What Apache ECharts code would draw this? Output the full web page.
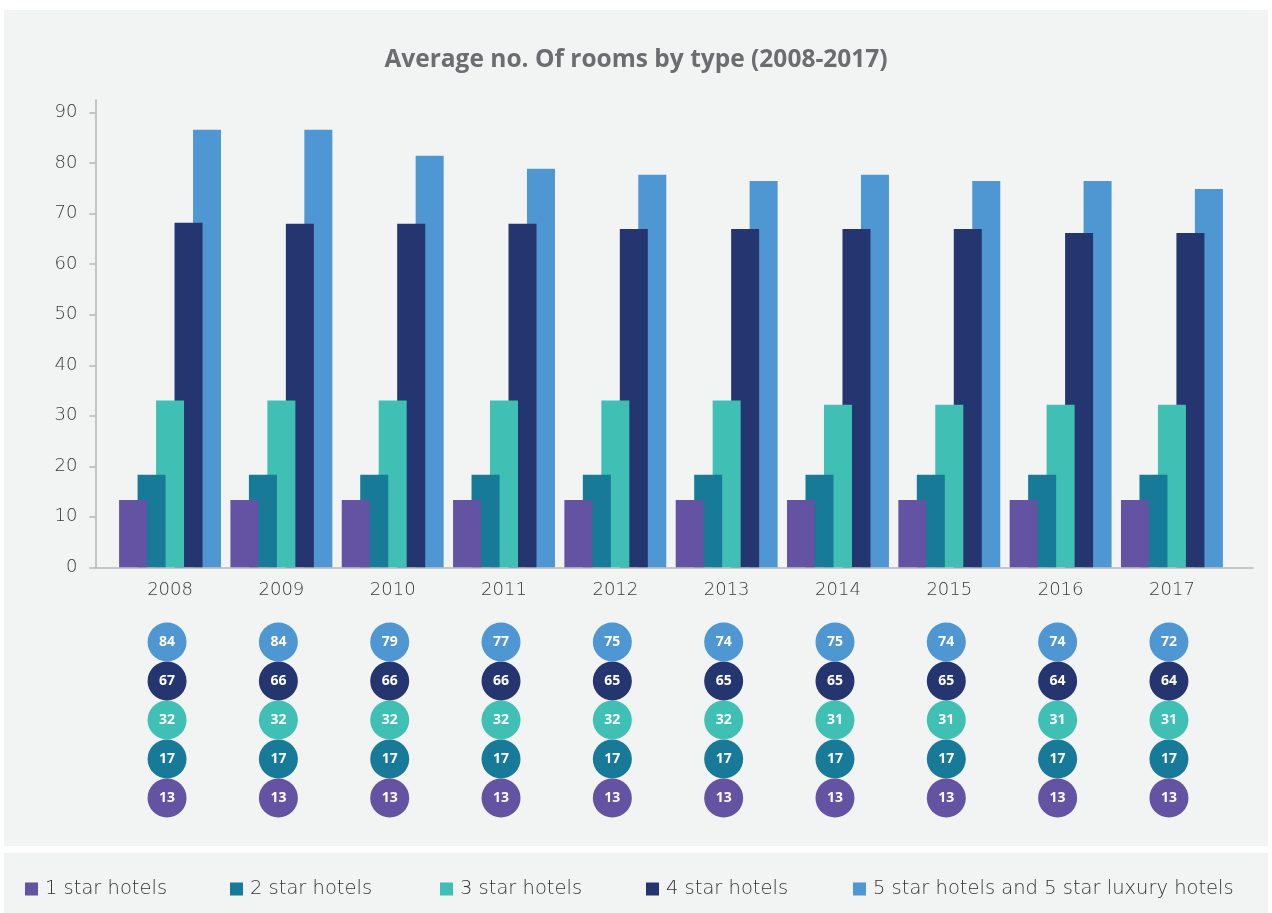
<!DOCTYPE html>
<html>
<head>
<meta charset="utf-8">
<script src="https://cdn.jsdelivr.net/npm/echarts@6/dist/echarts.min.js"></script>
<style>
html,body{margin:0;padding:0;background:#ffffff;}
#chart{width:1272px;height:913px;}
</style>
</head>
<body>
<div id="chart"></div>
<script>
// ---- data ----
const categories = ['2008','2009','2010','2011','2012','2013','2014','2015','2016','2017'];
const seriesNames = ['1 star hotels','2 star hotels','3 star hotels','4 star hotels','5 star hotels and 5 star luxury hotels'];
// bar heights as drawn
const bars1 = [13.3,13.3,13.3,13.3,13.3,13.3,13.3,13.3,13.3,13.3];
const bars2 = [18.3,18.3,18.3,18.3,18.3,18.3,18.3,18.3,18.3,18.3];
const bars3 = [33.0,33.0,33.0,33.0,33.0,33.0,32.2,32.2,32.2,32.2];
const bars4 = [68.2,68.0,68.0,68.0,67.0,67.0,67.0,67.0,66.2,66.2];
const bars5 = [86.6,86.6,81.5,78.9,77.7,76.5,77.7,76.5,76.5,74.9];
// values printed in the circles
const labels1 = [13,13,13,13,13,13,13,13,13,13];
const labels2 = [17,17,17,17,17,17,17,17,17,17];
const labels3 = [32,32,32,32,32,32,31,31,31,31];
const labels4 = [67,66,66,66,65,65,65,65,64,64];
const labels5 = [84,84,79,77,75,74,75,74,74,72];
const yTicks = [0,10,20,30,40,50,60,70,80,90];
const colors = ['#6453a3','#167a98','#40bfb4','#24356f','#4f97d2'];

const barData = [bars1,bars2,bars3,bars4,bars5];
const labelData = [labels1,labels2,labels3,labels4,labels5];

const chart = echarts.init(document.getElementById('chart'));
const FONT = 'DejaVu Sans';

const series = [];
barData.forEach((d,i)=>{
  series.push({
    name: seriesNames[i], type:'bar', xAxisIndex:0, yAxisIndex:0,
    data: d, barWidth:28, barGap:'-34%', z: 10 - i,
    itemStyle:{color:colors[i]}
  });
});
labelData.forEach((d,i)=>{
  series.push({
    name: seriesNames[i], type:'scatter', xAxisIndex:1, yAxisIndex:1,
    symbol:'circle', symbolSize:39,
    itemStyle:{color:colors[i], opacity:1},
    data: d.map((v,k)=>[k, i, v]),
    label:{show:true, position:'inside', color:'#ffffff', fontFamily:'Open Sans', fontWeight:'bold', fontSize:14,
      formatter:p=>String(p.value[2])},
    emphasis:{scale:false}
  });
});
// overlay axis lines
series.push({type:'line', xAxisIndex:2, yAxisIndex:2, data:[], silent:true});

const legendLefts = [25,230,440,646,853];
const legends = seriesNames.map((n,i)=>({
  data:[n], left:legendLefts[i], top:879, padding:0, icon:'rect', itemWidth:13, itemHeight:13, itemGap:0,
  textStyle:{fontFamily:FONT, fontSize:19.5, color:'#333333', fontWeight:200, padding:[0,0,0,2]}
}));

chart.setOption({
  animation:false,
  backgroundColor:'#ffffff',
  graphic:[
    {type:'rect', z:-10, shape:{x:4,y:10,width:1264,height:836}, style:{fill:'#f2f4f3'}},
    {type:'rect', z:-10, shape:{x:4,y:853,width:1264,height:60}, style:{fill:'#f2f4f3'}}
  ],
  title:{
    text:'Average no. Of rooms by type (2008-2017)', left:'center', top:43,
    textStyle:{fontFamily:'Open Sans', fontWeight:'bold', fontSize:24.5, color:'#6c6d70'}
  },
  legend: legends,
  grid:[
    {left:114.4, right:44.4, top:112.7, bottom:345.7},
    {left:111.4, right:47.4, top:622.5, bottom:95.5},
    {left:95.4, right:19, top:100, bottom:345.7}
  ],
  xAxis:[
    {type:'category', gridIndex:0, data:categories, axisLine:{show:false}, axisTick:{show:false},
      axisLabel:{margin:14, fontFamily:FONT, fontWeight:200, fontSize:18, color:'#3a3a3a'}},
    {type:'category', gridIndex:1, data:categories, show:false},
    {type:'value', gridIndex:2, min:0, max:1, axisLine:{show:true, lineStyle:{color:'#b5b5b5', width:1.5}},
      axisTick:{show:false}, axisLabel:{show:false}, splitLine:{show:false}}
  ],
  yAxis:[
    {type:'value', gridIndex:0, min:yTicks[0], max:yTicks[yTicks.length-1], interval:10, offset:19,
      axisLine:{show:false}, axisTick:{show:true, length:6, lineStyle:{color:'#b5b5b5', width:1.5}},
      splitLine:{show:false},
      axisLabel:{margin:18, fontFamily:FONT, fontWeight:200, fontSize:18, color:'#3a3a3a'}},
    {type:'category', gridIndex:1, data:[0,1,2,3,4], show:false},
    {type:'value', gridIndex:2, min:0, max:1, axisLine:{show:true, lineStyle:{color:'#b5b5b5', width:1.5}},
      axisTick:{show:false}, axisLabel:{show:false}, splitLine:{show:false}}
  ],
  series: series
});
</script>
</body>
</html>
